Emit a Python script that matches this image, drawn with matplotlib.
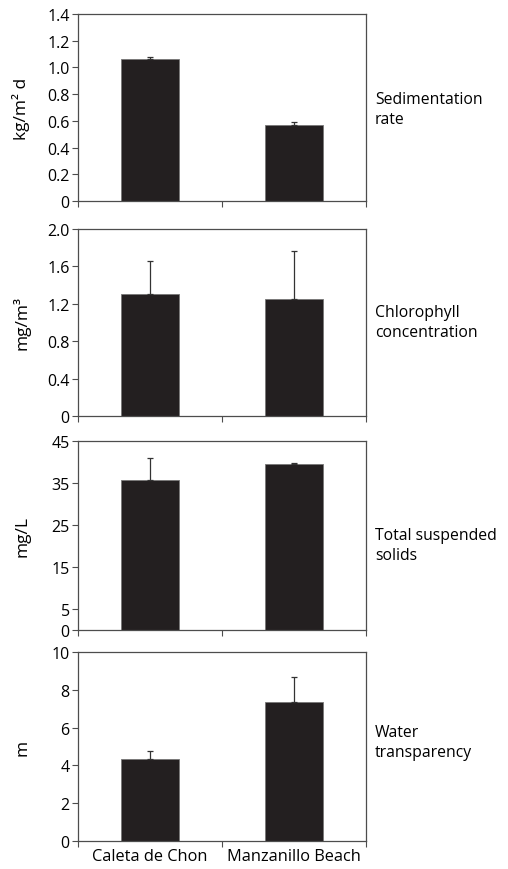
import matplotlib
matplotlib.use("Agg")
import matplotlib.pyplot as plt

plt.rcParams["font.family"] = ["Open Sans", "DejaVu Sans"]

# sites on the x axis
sites = ["Caleta de Chon", "Manzanillo Beach"]

# panel values (mean) and upper error (sd)
sed_rate = [1.06, 0.57]
sed_err = [0.02, 0.02]
chl_conc = [1.30, 1.25]
chl_err = [0.36, 0.52]
tss = [35.7, 39.5]
tss_err = [5.2, 0.3]
transp = [4.33, 7.36]
transp_err = [0.44, 1.31]

ylabels = ["kg/m\u00b2 d", "mg/m\u00b3", "mg/L", "m"]
side_labels = ["Sedimentation\nrate", "Chlorophyll\nconcentration",
               "Total suspended\nsolids", "Water\ntransparency"]
yticks = [[0, 0.2, 0.4, 0.6, 0.8, 1.0, 1.2, 1.4],
          [0, 0.4, 0.8, 1.2, 1.6, 2.0],
          [0, 5, 15, 25, 35, 45],
          [0, 2, 4, 6, 8, 10]]
yticklabels = [["0", "0.2", "0.4", "0.6", "0.8", "1.0", "1.2", "1.4"],
               ["0", "0.4", "0.8", "1.2", "1.6", "2.0"],
               ["0", "5", "15", "25", "35", "45"],
               ["0", "2", "4", "6", "8", "10"]]
values = [sed_rate, chl_conc, tss, transp]
errors = [sed_err, chl_err, tss_err, transp_err]

W, H = 508, 870
fig = plt.figure(figsize=(W / 100, H / 100), dpi=100)

# pixel boxes (top, bottom) of each panel
boxes = [(15, 202), (230, 417), (442, 631), (653, 842)]
side_y = [110, 323, 546, 743]
left, right = 78, 366

bar_col = "#231f20"
spine_col = "#4d4d4d"

for i, (top, bot) in enumerate(boxes):
    ax = fig.add_axes([left / W, 1 - bot / H, (right - left) / W, (bot - top) / H])
    x = [0, 1]
    ax.bar(x, values[i], width=0.4, color=bar_col, edgecolor="#777777", linewidth=0.6, zorder=2)
    ax.errorbar(x, values[i], yerr=[[0, 0], errors[i]], fmt="none", ecolor="#333333",
                elinewidth=0.9, capsize=2.5, capthick=0.9, zorder=3)
    ax.set_xlim(-0.5, 1.5)
    ax.set_ylim(yticks[i][0], yticks[i][-1])
    ax.set_yticks(yticks[i])
    ax.set_yticklabels(yticklabels[i], fontsize=11.5)
    ax.set_xticks([-0.5, 0.5, 1.5], minor=True)
    ax.set_xticks(x)
    if i == 3:
        ax.set_xticklabels(sites, fontsize=11.8)
    else:
        ax.set_xticklabels([])
    ax.tick_params(axis="x", which="major", length=0, pad=5)
    ax.tick_params(axis="x", which="minor", length=4, direction="out", color=spine_col, width=0.8)
    ax.tick_params(axis="y", length=4, direction="out", color=spine_col, width=0.8, pad=2)
    for s in ax.spines.values():
        s.set_color(spine_col)
        s.set_linewidth(0.9)
    ax.set_ylabel(ylabels[i], fontsize=12.5)
    ax.yaxis.set_label_coords(-0.165, 0.5)
    fig.text(375 / W, 1 - side_y[i] / H, side_labels[i], fontsize=11.3,
             ha="left", va="center", linespacing=1.3)

fig.savefig("out.png", dpi=100)
